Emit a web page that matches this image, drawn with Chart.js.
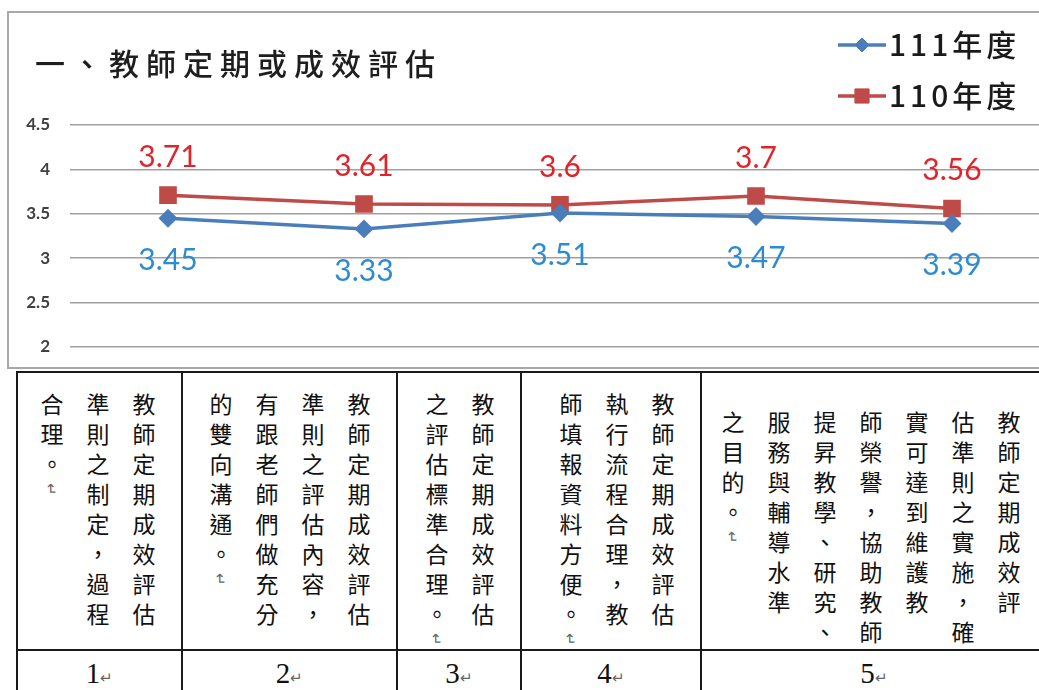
<!DOCTYPE html>
<html>
<head>
<meta charset="utf-8">
<script src="https://cdn.jsdelivr.net/npm/chart.js@4.4.0/dist/chart.umd.min.js"></script>
<style>
  html, body { margin: 0; padding: 0; width: 1039px; height: 690px; overflow: hidden; background: #fff; }
  #frame { position: absolute; left: 7px; top: 11px; width: 1100px; height: 354px; border: 2px solid #a8a8a8; }
  #wrap { position: absolute; left: 0; top: 0; width: 1050px; height: 368px; }
  table { position: absolute; left: 16px; top: 371px; border-collapse: collapse; table-layout: fixed; width: 1030px; color: #111; }
  td { border: 2px solid #1a1a1a; padding: 0; position: relative; }
  tr.txt td { height: 276px; }
  tr.num td { height: 44px; text-align: center; vertical-align: middle; font-family: "Liberation Serif", serif; font-size: 29px; }
  .v { position: absolute; top: 20px; right: 14px; writing-mode: vertical-rl; font-family: "Noto Sans CJK TC", sans-serif; font-size: 23px; line-height: 46px; letter-spacing: 7px; white-space: nowrap; }
  .pm { font-size: 15px; color: #666; letter-spacing: 0; }
</style>
</head>
<body>
<div id="frame"></div>
<div id="wrap"><canvas id="lineChart" width="1050" height="368"></canvas></div>
<table>
  <colgroup><col style="width:165px"><col style="width:215px"><col style="width:124px"><col style="width:180px"><col style="width:346px"></colgroup>
  <tr class="txt">
    <td><div class="v">教師定期成效評估<br>準則之制定，過程<br>合理。<span class="pm">↵</span></div></td>
    <td><div class="v">教師定期成效評估<br>準則之評估內容，<br>有跟老師們做充分<br>的雙向溝通。<span class="pm">↵</span></div></td>
    <td><div class="v">教師定期成效評估<br>之評估標準合理。<span class="pm">↵</span></div></td>
    <td><div class="v">教師定期成效評估<br>執行流程合理，教<br>師填報資料方便。<span class="pm">↵</span></div></td>
    <td><div class="v" style="top:38px">教師定期成效評<br>估準則之實施，確<br>實可達到維護教<br>師榮譽，協助教師<br>提昇教學、研究、<br>服務與輔導水準<br>之目的。<span class="pm">↵</span></div></td>
  </tr>
  <tr class="num">
    <td>1<span class="pm">↵</span></td>
    <td>2<span class="pm">↵</span></td>
    <td>3<span class="pm">↵</span></td>
    <td>4<span class="pm">↵</span></td>
    <td>5<span class="pm">↵</span></td>
  </tr>
</table>
<script>
const chartTitle = '一、教師定期或成效評估'
const categories = ['1', '2', '3', '4', '5']
const seriesNames = ['111年度', '110年度']
const values111 = [3.45, 3.33, 3.51, 3.47, 3.39]
const values110 = [3.71, 3.61, 3.6, 3.7, 3.56]
const yTicks = [2, 2.5, 3, 3.5, 4, 4.5]

// value labels, red above the point, blue below
const valueLabels = {
  id: 'valueLabels',
  afterDatasetsDraw(chart) {
    const ctx = chart.ctx
    chart.data.datasets.forEach((ds, i) => {
      chart.getDatasetMeta(i).data.forEach((pt, j) => {
        ctx.save()
        ctx.font = '30px Lato'
        ctx.fillStyle = ds.labelColor
        ctx.textAlign = 'center'
        ctx.textBaseline = 'middle'
        ctx.fillText(String(ds.data[j]), pt.x, pt.y + ds.labelShift)
        ctx.restore()
      })
    })
  }
}

// title on the left, stacked legend on the right
const header = {
  id: 'header',
  afterDraw(chart) {
    const ctx = chart.ctx
    ctx.save()
    ctx.fillStyle = '#1e1e1e'
    ctx.font = '500 30px "Noto Sans CJK TC"'
    ctx.letterSpacing = '7px'
    ctx.textBaseline = 'middle'
    ctx.fillText(chartTitle, 35, 64)

    chart.data.datasets.forEach((ds, i) => {
      const y = 45 + i * 51
      ctx.strokeStyle = ds.borderColor
      ctx.lineWidth = 3.5
      ctx.beginPath()
      ctx.moveTo(838, y)
      ctx.lineTo(886, y)
      ctx.stroke()
      ctx.fillStyle = ds.pointBackgroundColor
      ctx.lineWidth = 1
      Chart.helpers.drawPoint(ctx, { pointStyle: ds.pointStyle, radius: ds.pointRadius, borderWidth: 1, rotation: 0 }, 862, y)
      ctx.fillStyle = '#1a1a1a'
      ctx.letterSpacing = '4px'
      ctx.font = '500 30px "Noto Sans CJK TC"'
      ctx.fillText(ds.label, 889, y)
    })
    ctx.restore()
  }
}

const data = {
  labels: categories,
  datasets: [{
    label: seriesNames[0],
    data: values111,
    borderColor: '#4a7ebb',
    backgroundColor: '#4a7ebb',
    pointBackgroundColor: '#4a7ebb',
    pointBorderColor: '#4a7ebb',
    pointStyle: 'rectRot',
    pointRadius: 7,
    borderWidth: 3.5,
    labelColor: '#2e8bd2',
    labelShift: 42
  }, {
    label: seriesNames[1],
    data: values110,
    borderColor: '#be4b48',
    backgroundColor: '#be4b48',
    pointBackgroundColor: '#be4b48',
    pointBorderColor: '#be4b48',
    pointStyle: 'rect',
    pointRadius: 10,
    borderWidth: 3.5,
    labelColor: '#e0242c',
    labelShift: -38
  }]
}

const config = {
  type: 'line',
  data: data,
  options: {
    responsive: false,
    animation: false,
    layout: {
      autoPadding: false,
      padding: { top: 125, bottom: 21, left: 0, right: 0 }
    },
    plugins: {
      legend: { display: false },
      title: { display: false },
      tooltip: { enabled: false }
    },
    scales: {
      x: {
        display: false,
        offset: true
      },
      y: {
        min: 2,
        max: 4.5,
        afterBuildTicks: s => { s.ticks = yTicks.map(v => ({ value: v })) },
        afterFit: s => {
          s.width = 70
          // tick padding should not push the plot area up
          s.paddingTop = 0
          s.paddingBottom = 0
        },
        border: { display: false },
        grid: { color: '#a0a0a0', lineWidth: 1.5, drawTicks: false },
        ticks: {
          padding: 20,
          color: '#404040',
          font: { family: 'Lato', size: 17, weight: 'bold' },
          callback: v => String(v)
        }
      }
    }
  },
  plugins: [valueLabels, header]
}

const lineChart = new Chart(document.getElementById('lineChart'), config)
</script>
</body>
</html>
